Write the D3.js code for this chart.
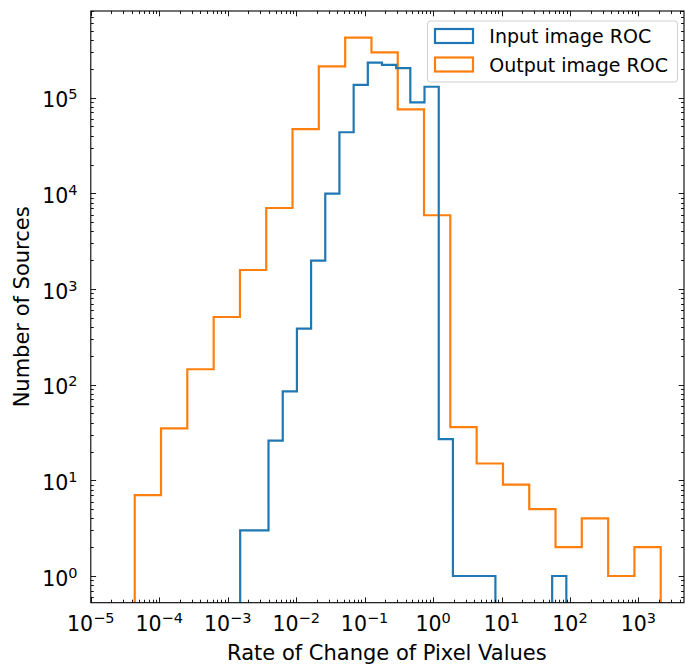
<!DOCTYPE html>
<html>
<head>
<meta charset="utf-8">
<script src="https://cdn.jsdelivr.net/npm/d3@7"></script>
<style>
  html, body { margin: 0; padding: 0; background: #fff; }
  svg { display: block; font-family: "DejaVu Sans", sans-serif; }
</style>
</head>
<body>
<svg id="chart" width="685" height="666"></svg>
<script>
// Histogram of pixel-value rate of change, log-log step outlines.

// Bin edges (log-spaced) and counts for the input image ROC
const inputEdges = [1.521e-3, 2.449e-3, 3.945e-3, 6.368e-3, 0.01026, 0.01652, 0.02661,
  0.04285, 0.06918, 0.1114, 0.1795, 0.2891, 0.4656, 0.7499, 1.211, 1.950, 3.141,
  5.058, 8.147, 13.15, 21.18, 34.12, 54.95, 88.51];
const inputCounts = [3, 3, 26, 85, 385, 1980, 9930, 43500, 136000, 233000, 220000,
  204000, 89500, 130000, 27, 1, 1, 1, 0, 0, 0, 0, 1];

// Bin edges and counts for the output image ROC
const outputEdges = [4.385e-5, 1.062e-4, 2.570e-4, 6.237e-4, 1.510e-3, 3.656e-3,
  8.851e-3, 0.02143, 0.05200, 0.1259, 0.3048, 0.7379, 1.786, 4.335, 10.50, 25.41,
  61.52, 148.9, 361.4, 875.0, 2118];
const outputCounts = [7, 35, 145, 510, 1580, 7030, 47000, 212000, 424000, 298000,
  75600, 5900, 36, 15, 9, 5, 2, 4, 1, 2];

const seriesNames = ["Input image ROC", "Output image ROC"];
const xTickExponents = [-5, -4, -3, -2, -1, 0, 1, 2, 3];
const yTickExponents = [0, 1, 2, 3, 4, 5];

const colors = { input: "#1f77b4", output: "#ff7f0e" };
const xDomain = [1e-5, Math.pow(10, 3.666)];
const yDomain = [Math.pow(10, -0.279), Math.pow(10, 5.906)];

const svg = d3.select("#chart");
const plot = { left: 90.8, right: 684, top: 11, bottom: 602.7 };

const x = d3.scaleLog().domain(xDomain).range([plot.left, plot.right]);
const y = d3.scaleLog().domain(yDomain).range([plot.bottom, plot.top]);

svg.append("defs").append("clipPath").attr("id", "plotClip")
  .append("rect")
  .attr("x", plot.left).attr("y", plot.top)
  .attr("width", plot.right - plot.left).attr("height", plot.bottom - plot.top);

// Step outline: rises from below the axis, walks each bin, drops back down
function stepPoints(edges, counts) {
  const below = plot.bottom + 200;
  const yv = c => c > 0 ? y(c) : below;
  const pts = [[x(edges[0]), below]];
  counts.forEach((c, i) => {
    pts.push([x(edges[i]), yv(c)]);
    pts.push([x(edges[i + 1]), yv(c)]);
  });
  pts.push([x(edges[edges.length - 1]), below]);
  return pts;
}

const line = d3.line();
const marks = svg.append("g").attr("clip-path", "url(#plotClip)");
marks.append("path")
  .attr("d", line(stepPoints(outputEdges, outputCounts)))
  .attr("fill", "none").attr("stroke", colors.output)
  .attr("stroke-width", 2.2).attr("stroke-linejoin", "miter");
marks.append("path")
  .attr("d", line(stepPoints(inputEdges, inputCounts)))
  .attr("fill", "none").attr("stroke", colors.input)
  .attr("stroke-width", 2.2).attr("stroke-linejoin", "miter");

// Inward ticks on all four sides
const majorLen = 5.3, minorLen = 3;
const xMinor = x.ticks().filter(v => v >= xDomain[0] && v <= xDomain[1]);
const yMinor = y.ticks().filter(v => v >= yDomain[0] && v <= yDomain[1]);
const isMajor = v => Math.abs(Math.log10(v) - Math.round(Math.log10(v))) < 1e-9;

const ticks = svg.append("g").attr("stroke", "#000").attr("stroke-width", 0.9);
xMinor.forEach(v => {
  const len = isMajor(v) ? majorLen : minorLen;
  const px = Math.round(x(v)) + 0.5;
  ticks.append("line").attr("x1", px).attr("x2", px)
    .attr("y1", plot.bottom).attr("y2", plot.bottom - len);
  ticks.append("line").attr("x1", px).attr("x2", px)
    .attr("y1", plot.top).attr("y2", plot.top + len);
});
yMinor.forEach(v => {
  const len = isMajor(v) ? majorLen : minorLen;
  const py = Math.round(y(v)) + 0.5;
  ticks.append("line").attr("y1", py).attr("y2", py)
    .attr("x1", plot.left).attr("x2", plot.left + len);
  ticks.append("line").attr("y1", py).attr("y2", py)
    .attr("x1", plot.right).attr("x2", plot.right - len);
});

// Frame
svg.append("rect")
  .attr("x", plot.left).attr("y", plot.top)
  .attr("width", plot.right - plot.left).attr("height", plot.bottom - plot.top)
  .attr("fill", "none").attr("stroke", "#000").attr("stroke-width", 1.1);

// Tick labels as 10 with a superscript exponent
const fmtExp = e => (e < 0 ? "\u2212" + Math.abs(e) : String(e));
function powerLabel(g, e) {
  g.append("tspan").text("10");
  g.append("tspan").attr("font-size", 14.5).attr("dy", -8).text(fmtExp(e));
}
xTickExponents.forEach(e => {
  const t = svg.append("text")
    .attr("x", x(Math.pow(10, e))).attr("y", plot.bottom + 28.3)
    .attr("text-anchor", "middle").attr("font-size", 20.5).attr("fill", "#000");
  powerLabel(t, e);
});
yTickExponents.forEach(e => {
  const t = svg.append("text")
    .attr("x", 77.5).attr("y", y(Math.pow(10, e)) + 9.5)
    .attr("text-anchor", "end").attr("font-size", 20.5).attr("fill", "#000");
  powerLabel(t, e);
});

// Axis titles
svg.append("text")
  .attr("x", (plot.left + plot.right) / 2 - 0.5).attr("y", 660)
  .attr("text-anchor", "middle").attr("font-size", 21).attr("fill", "#000")
  .text("Rate of Change of Pixel Values");
svg.append("text")
  .attr("transform", `translate(29,${(plot.top + plot.bottom) / 2}) rotate(-90)`)
  .attr("text-anchor", "middle").attr("font-size", 21).attr("fill", "#000")
  .text("Number of Sources");

// Legend
const legend = svg.append("g");
legend.append("rect")
  .attr("x", 427.5).attr("y", 21).attr("width", 250).attr("height", 61).attr("rx", 3)
  .attr("fill", "#fff").attr("fill-opacity", 0.8)
  .attr("stroke", "#d0d0d0").attr("stroke-width", 1);
[colors.input, colors.output].forEach((c, i) => {
  const top = 29 + i * 28.5;
  legend.append("rect")
    .attr("x", 435).attr("y", top).attr("width", 38).attr("height", 14)
    .attr("fill", "none").attr("stroke", c).attr("stroke-width", 2.2);
  legend.append("text")
    .attr("x", 489.3).attr("y", top + 14.3)
    .attr("font-size", 19).attr("fill", "#000")
    .text(seriesNames[i]);
});
</script>
</body>
</html>
